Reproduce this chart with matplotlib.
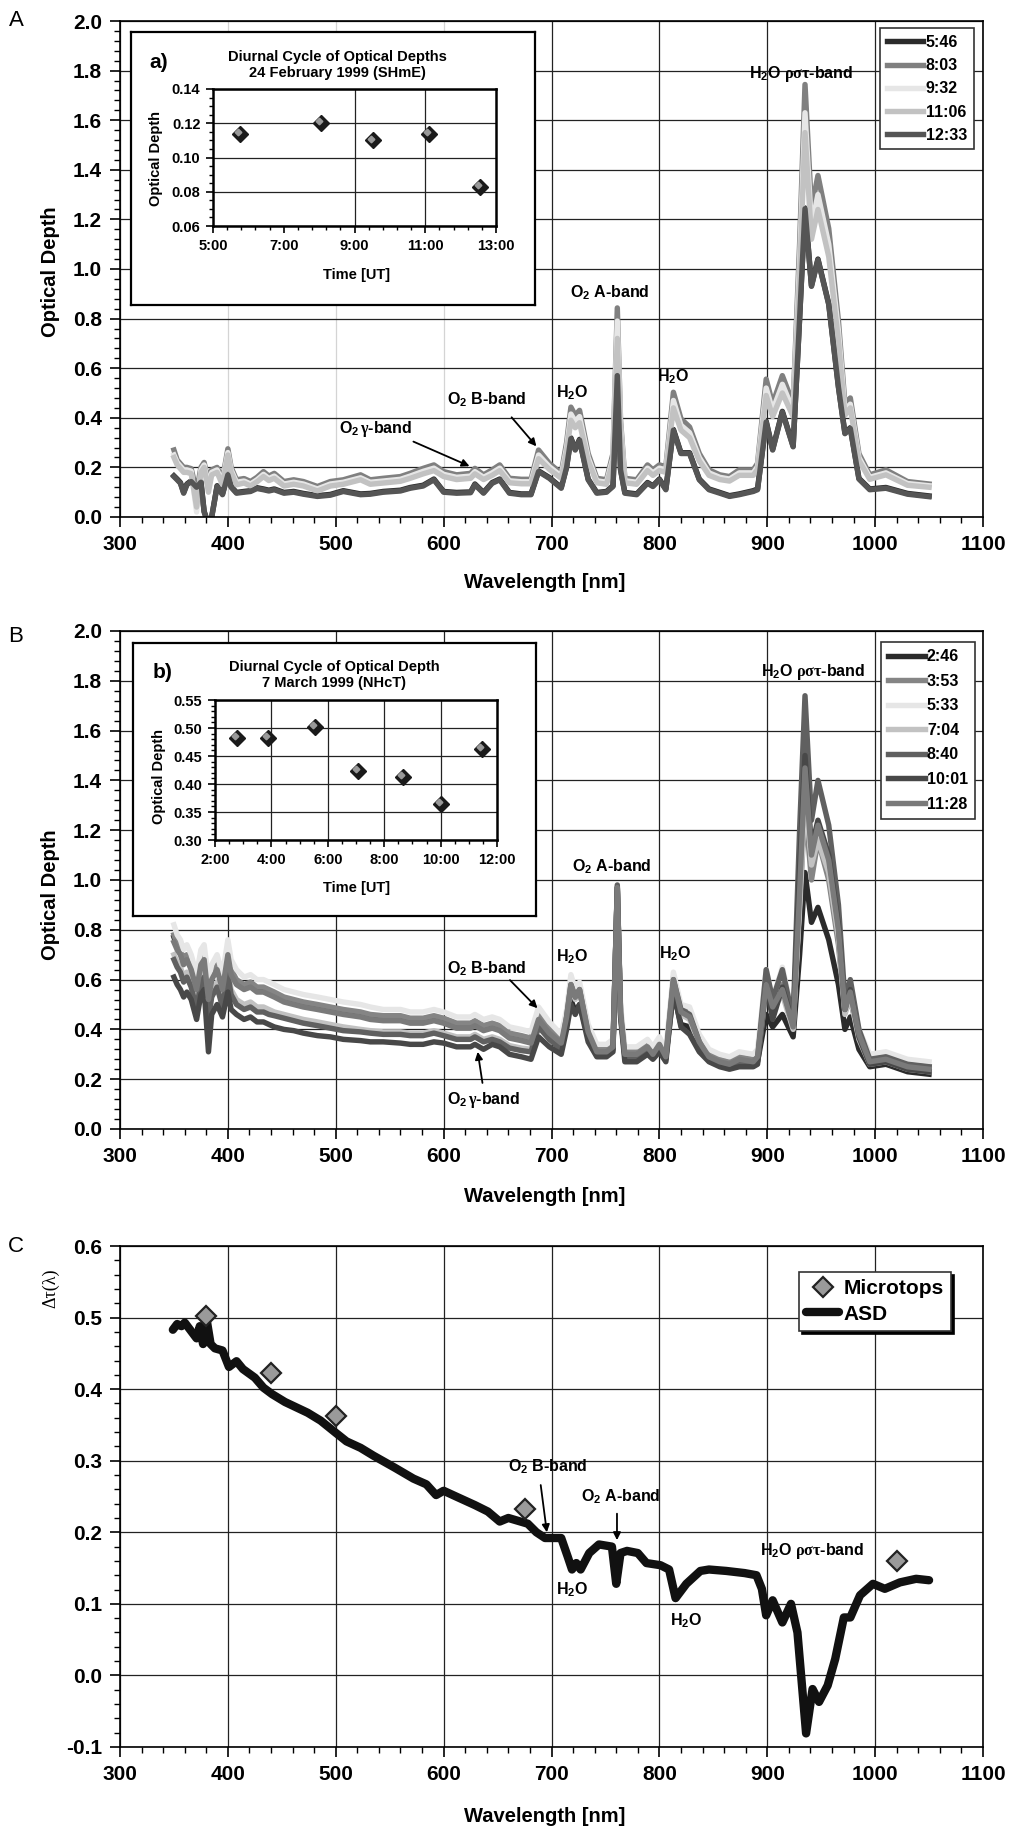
import matplotlib
matplotlib.use("Agg")
import numpy as np
import matplotlib.pyplot as plt
from matplotlib import transforms
from matplotlib.ticker import MultipleLocator, FuncFormatter, FormatStrFormatter

plt.rcParams["font.family"] = ["Liberation Sans", "DejaVu Sans"]
plt.rcParams["font.weight"] = "bold"
plt.rcParams["axes.unicode_minus"] = False
plt.rcParams["mathtext.fontset"] = "custom"
plt.rcParams["mathtext.rm"] = "Liberation Serif"
plt.rcParams["mathtext.it"] = "Liberation Serif:italic"
plt.rcParams["mathtext.bf"] = "Liberation Sans:bold"

# ---------------- data ----------------
# common wavelength grid of the ASD spectra (panels A and B)
wl = [350, 353, 356, 359, 362, 366, 371, 375, 378, 382,
      385, 390, 395, 400, 403, 408, 415, 421, 427, 433,
      438, 443, 452, 461, 470, 483, 495, 507, 523, 532,
      544, 560, 569, 581, 591, 600, 612, 625, 629, 637,
      645, 652, 661, 672, 681, 688, 698, 709, 714, 718,
      722, 726, 734, 742, 751, 757, 761, 764, 768, 779,
      789, 794, 800, 806, 813, 820, 828, 837, 846, 856,
      865, 874, 887, 891, 899, 905, 914, 924, 930, 935,
      941, 947, 957, 966, 972, 977, 985, 995, 1010, 1030,
      1050]

# panel A, 24 February 1999
od_a_0546 = [0.166, 0.153, 0.139, 0.099, 0.133, 0.146, 0.123, 0.143, 0.023, -0.03,
             0.0, 0.126, 0.093, 0.173, 0.123, 0.099, 0.103, 0.106, 0.118, 0.113,
             0.108, 0.113, 0.099, 0.103, 0.095, 0.086, 0.091, 0.106, 0.093, 0.095,
             0.103, 0.108, 0.119, 0.128, 0.153, 0.103, 0.099, 0.101, 0.133, 0.099,
             0.139, 0.153, 0.099, 0.093, 0.093, 0.186, 0.159, 0.119, 0.203, 0.319,
             0.273, 0.313, 0.153, 0.099, 0.103, 0.126, 0.573, 0.193, 0.099, 0.093,
             0.139, 0.126, 0.153, 0.113, 0.353, 0.259, 0.259, 0.153, 0.113, 0.099,
             0.086, 0.093, 0.106, 0.113, 0.386, 0.273, 0.426, 0.286, 0.803, 1.246,
             0.933, 1.04, 0.86, 0.526, 0.339, 0.36, 0.156, 0.113, 0.119, 0.095,
             0.085]
od_a_0803 = [0.27, 0.23, 0.215, 0.20, 0.20, 0.195, 0.10, 0.20, 0.22, 0.14,
             0.19, 0.20, 0.15, 0.275, 0.20, 0.15, 0.155, 0.143, 0.16, 0.183,
             0.165, 0.176, 0.143, 0.15, 0.143, 0.123, 0.143, 0.15, 0.17, 0.15,
             0.156, 0.163, 0.176, 0.196, 0.21, 0.183, 0.17, 0.176, 0.196, 0.17,
             0.19, 0.21, 0.156, 0.152, 0.152, 0.27, 0.216, 0.176, 0.30, 0.443,
             0.41, 0.43, 0.256, 0.156, 0.15, 0.256, 0.843, 0.39, 0.156, 0.15,
             0.21, 0.19, 0.21, 0.203, 0.503, 0.396, 0.363, 0.256, 0.19, 0.17,
             0.163, 0.19, 0.19, 0.216, 0.556, 0.456, 0.57, 0.456, 1.10, 1.744,
             1.243, 1.377, 1.163, 0.79, 0.456, 0.48, 0.255, 0.17, 0.19, 0.143,
             0.133]
od_a_0932 = [0.25, 0.22, 0.205, 0.19, 0.19, 0.185, 0.02, 0.19, 0.21, 0.12,
             0.18, 0.19, 0.14, 0.26, 0.19, 0.14, 0.145, 0.133, 0.15, 0.172,
             0.155, 0.165, 0.133, 0.14, 0.133, 0.113, 0.133, 0.14, 0.158, 0.14,
             0.145, 0.152, 0.165, 0.184, 0.197, 0.172, 0.16, 0.165, 0.183, 0.16,
             0.178, 0.197, 0.146, 0.142, 0.142, 0.25, 0.203, 0.165, 0.28, 0.415,
             0.385, 0.405, 0.24, 0.146, 0.14, 0.24, 0.79, 0.37, 0.146, 0.14,
             0.197, 0.178, 0.197, 0.19, 0.47, 0.37, 0.34, 0.24, 0.178, 0.16,
             0.153, 0.178, 0.178, 0.203, 0.52, 0.43, 0.535, 0.43, 1.03, 1.63,
             1.17, 1.30, 1.10, 0.75, 0.43, 0.455, 0.24, 0.16, 0.178, 0.135,
             0.126]
od_a_1106 = [0.24, 0.21, 0.195, 0.18, 0.18, 0.175, 0.04, 0.18, 0.20, 0.10,
             0.17, 0.18, 0.13, 0.25, 0.18, 0.13, 0.137, 0.125, 0.142, 0.163,
             0.147, 0.156, 0.125, 0.132, 0.125, 0.105, 0.125, 0.132, 0.15, 0.132,
             0.137, 0.144, 0.156, 0.174, 0.187, 0.163, 0.151, 0.156, 0.174, 0.151,
             0.168, 0.187, 0.138, 0.134, 0.134, 0.235, 0.192, 0.156, 0.265, 0.39,
             0.36, 0.38, 0.226, 0.138, 0.132, 0.226, 0.72, 0.345, 0.138, 0.132,
             0.187, 0.168, 0.187, 0.18, 0.44, 0.35, 0.32, 0.226, 0.168, 0.151,
             0.145, 0.168, 0.168, 0.192, 0.49, 0.405, 0.50, 0.405, 0.97, 1.55,
             1.12, 1.24, 1.05, 0.71, 0.41, 0.44, 0.228, 0.152, 0.17, 0.128,
             0.12]
od_a_1233 = [0.163, 0.15, 0.136, 0.096, 0.13, 0.143, 0.12, 0.14, 0.02, -0.03,
             0.0, 0.123, 0.09, 0.17, 0.12, 0.096, 0.10, 0.103, 0.115, 0.11,
             0.105, 0.11, 0.096, 0.10, 0.092, 0.083, 0.088, 0.103, 0.09, 0.092,
             0.10, 0.105, 0.116, 0.125, 0.15, 0.10, 0.096, 0.098, 0.13, 0.096,
             0.136, 0.15, 0.096, 0.09, 0.09, 0.183, 0.156, 0.116, 0.20, 0.316,
             0.27, 0.31, 0.15, 0.096, 0.10, 0.123, 0.57, 0.19, 0.096, 0.09,
             0.136, 0.123, 0.15, 0.11, 0.35, 0.256, 0.256, 0.15, 0.11, 0.096,
             0.083, 0.09, 0.103, 0.11, 0.383, 0.27, 0.423, 0.283, 0.80, 1.243,
             0.93, 1.037, 0.857, 0.523, 0.336, 0.357, 0.153, 0.11, 0.116, 0.092,
             0.082]
labels_a = ["5:46", "8:03", "9:32", "11:06", "12:33"]
colors_a = ["#2b2b2b", "#808080", "#e6e6e6", "#c2c2c2", "#555555"]

# panel B, 7 March 1999
od_b_0246 = [0.77, 0.73, 0.71, 0.67, 0.69, 0.65, 0.55, 0.67, 0.69, 0.50,
             0.61, 0.65, 0.57, 0.71, 0.63, 0.59, 0.57, 0.58, 0.56, 0.56,
             0.55, 0.54, 0.52, 0.51, 0.50, 0.49, 0.48, 0.47, 0.46, 0.45,
             0.445, 0.445, 0.435, 0.435, 0.445, 0.435, 0.415, 0.415, 0.425, 0.405,
             0.415, 0.405, 0.375, 0.365, 0.355, 0.45, 0.395, 0.35, 0.43, 0.52,
             0.47, 0.50, 0.37, 0.31, 0.31, 0.33, 0.96, 0.47, 0.30, 0.30,
             0.33, 0.30, 0.34, 0.29, 0.55, 0.42, 0.41, 0.33, 0.28, 0.26,
             0.25, 0.27, 0.26, 0.27, 0.46, 0.41, 0.46, 0.37, 0.70, 1.03,
             0.83, 0.89, 0.76, 0.58, 0.40, 0.45, 0.32, 0.25, 0.26, 0.23,
             0.22]
od_b_0353 = [0.78, 0.74, 0.72, 0.68, 0.70, 0.66, 0.56, 0.68, 0.70, 0.52,
             0.62, 0.66, 0.58, 0.72, 0.64, 0.60, 0.58, 0.59, 0.57, 0.57,
             0.56, 0.55, 0.53, 0.52, 0.51, 0.50, 0.49, 0.48, 0.47, 0.46,
             0.455, 0.455, 0.445, 0.445, 0.455, 0.445, 0.425, 0.425, 0.435, 0.415,
             0.425, 0.415, 0.385, 0.375, 0.365, 0.46, 0.405, 0.36, 0.46, 0.59,
             0.54, 0.57, 0.40, 0.32, 0.32, 0.34, 0.97, 0.48, 0.31, 0.31,
             0.34, 0.31, 0.35, 0.30, 0.61, 0.48, 0.47, 0.36, 0.30, 0.28,
             0.27, 0.29, 0.28, 0.30, 0.60, 0.50, 0.58, 0.42, 0.88, 1.30,
             1.00, 1.16, 1.00, 0.74, 0.47, 0.52, 0.37, 0.28, 0.29, 0.26,
             0.25]
od_b_0533 = [0.82, 0.78, 0.76, 0.72, 0.74, 0.70, 0.62, 0.72, 0.74, 0.60,
             0.66, 0.70, 0.62, 0.76, 0.68, 0.64, 0.61, 0.62, 0.60, 0.60,
             0.59, 0.58, 0.56, 0.55, 0.54, 0.53, 0.52, 0.51, 0.50, 0.49,
             0.48, 0.48, 0.47, 0.47, 0.48, 0.47, 0.45, 0.45, 0.46, 0.44,
             0.45, 0.44, 0.41, 0.40, 0.39, 0.49, 0.43, 0.38, 0.48, 0.62,
             0.56, 0.59, 0.42, 0.34, 0.34, 0.36, 0.98, 0.50, 0.33, 0.33,
             0.36, 0.33, 0.37, 0.32, 0.63, 0.50, 0.49, 0.38, 0.32, 0.30,
             0.29, 0.31, 0.30, 0.32, 0.64, 0.52, 0.65, 0.45, 0.90, 1.36,
             1.08, 1.22, 1.07, 0.80, 0.50, 0.55, 0.40, 0.30, 0.31, 0.28,
             0.27]
od_b_0704 = [0.70, 0.67, 0.65, 0.61, 0.63, 0.59, 0.50, 0.61, 0.63, 0.46,
             0.55, 0.59, 0.51, 0.64, 0.56, 0.52, 0.50, 0.51, 0.49, 0.49,
             0.48, 0.47, 0.46, 0.45, 0.44, 0.43, 0.42, 0.41, 0.40, 0.395,
             0.39, 0.39, 0.385, 0.385, 0.395, 0.385, 0.37, 0.37, 0.38, 0.36,
             0.37, 0.36, 0.335, 0.325, 0.32, 0.42, 0.37, 0.33, 0.44, 0.57,
             0.52, 0.55, 0.38, 0.30, 0.30, 0.32, 0.97, 0.46, 0.29, 0.29,
             0.32, 0.29, 0.33, 0.28, 0.59, 0.46, 0.44, 0.34, 0.28, 0.26,
             0.25, 0.27, 0.26, 0.28, 0.56, 0.48, 0.54, 0.40, 0.92, 1.40,
             1.06, 1.16, 1.03, 0.77, 0.46, 0.53, 0.36, 0.26, 0.27, 0.24,
             0.23]
od_b_0840 = [0.68, 0.65, 0.63, 0.59, 0.61, 0.57, 0.48, 0.59, 0.61, 0.44,
             0.53, 0.57, 0.49, 0.62, 0.54, 0.50, 0.48, 0.49, 0.47, 0.47,
             0.46, 0.455, 0.445, 0.435, 0.425, 0.415, 0.405, 0.395, 0.39, 0.385,
             0.38, 0.38, 0.375, 0.375, 0.385, 0.375, 0.36, 0.36, 0.37, 0.35,
             0.36, 0.35, 0.325, 0.315, 0.31, 0.41, 0.36, 0.32, 0.45, 0.58,
             0.53, 0.56, 0.38, 0.30, 0.30, 0.32, 0.98, 0.46, 0.29, 0.28,
             0.32, 0.29, 0.33, 0.28, 0.60, 0.48, 0.46, 0.35, 0.28, 0.26,
             0.25, 0.27, 0.26, 0.28, 0.64, 0.52, 0.64, 0.44, 1.20, 1.74,
             1.24, 1.40, 1.22, 0.90, 0.52, 0.60, 0.40, 0.28, 0.29, 0.26,
             0.25]
od_b_1001 = [0.61, 0.58, 0.56, 0.53, 0.55, 0.52, 0.44, 0.54, 0.56, 0.31,
             0.46, 0.50, 0.45, 0.55, 0.48, 0.46, 0.44, 0.45, 0.43, 0.43,
             0.42, 0.41, 0.40, 0.395, 0.385, 0.375, 0.37, 0.36, 0.355, 0.35,
             0.35, 0.345, 0.34, 0.34, 0.35, 0.345, 0.33, 0.33, 0.34, 0.32,
             0.34, 0.33, 0.30, 0.29, 0.28, 0.37, 0.33, 0.30, 0.40, 0.50,
             0.46, 0.50, 0.35, 0.29, 0.29, 0.31, 0.97, 0.45, 0.27, 0.27,
             0.30, 0.28, 0.31, 0.27, 0.56, 0.41, 0.38, 0.31, 0.27, 0.25,
             0.24, 0.25, 0.25, 0.26, 0.58, 0.44, 0.57, 0.42, 1.05, 1.50,
             1.13, 1.24, 1.10, 0.82, 0.48, 0.56, 0.37, 0.26, 0.27, 0.24,
             0.23]
od_b_1128 = [0.75, 0.72, 0.70, 0.66, 0.68, 0.64, 0.56, 0.66, 0.68, 0.52,
             0.60, 0.64, 0.56, 0.70, 0.62, 0.58, 0.56, 0.57, 0.55, 0.55,
             0.54, 0.53, 0.51, 0.50, 0.49, 0.48, 0.47, 0.46, 0.45, 0.44,
             0.435, 0.435, 0.425, 0.425, 0.435, 0.425, 0.405, 0.405, 0.415, 0.395,
             0.405, 0.395, 0.365, 0.355, 0.345, 0.44, 0.385, 0.345, 0.45, 0.58,
             0.53, 0.56, 0.39, 0.31, 0.31, 0.33, 0.97, 0.47, 0.30, 0.30,
             0.33, 0.30, 0.34, 0.29, 0.60, 0.47, 0.45, 0.35, 0.29, 0.27,
             0.26, 0.28, 0.27, 0.29, 0.58, 0.49, 0.56, 0.41, 0.95, 1.45,
             1.10, 1.22, 1.08, 0.80, 0.48, 0.55, 0.38, 0.27, 0.28, 0.25,
             0.24]
labels_b = ["2:46", "3:53", "5:33", "7:04", "8:40", "10:01", "11:28"]
colors_b = ["#2b2b2b", "#858585", "#e6e6e6", "#c2c2c2", "#606060", "#484848", "#7a7a7a"]

# insets: diurnal cycle
time_a = [5.77, 8.05, 9.53, 11.10, 12.55]
tau_a = [0.114, 0.120, 0.110, 0.114, 0.083]
time_b = [2.77, 3.88, 5.55, 7.07, 8.67, 10.02, 11.47]
tau_b = [0.483, 0.482, 0.502, 0.424, 0.412, 0.364, 0.462]

# panel C: delta tau
wl_c = [349, 353, 357, 360, 365, 371, 374, 377, 380, 384,
        388, 395, 401, 408, 414, 425, 433, 441, 453, 474,
        486, 500, 510, 523, 535, 555, 572, 584, 593, 600,
        613, 629, 641, 652, 660, 678, 686, 694, 709, 715,
        719, 723, 727, 735, 744, 756, 760, 764, 770, 780,
        788, 801, 809, 815, 825, 838, 846, 862, 879, 890,
        895, 899, 905, 914, 922, 928, 936, 942, 948, 956,
        963, 971, 977, 986, 998, 1009, 1023, 1038, 1050]
dtau_asd = [0.483, 0.491, 0.488, 0.493, 0.483, 0.471, 0.488, 0.463, 0.500, 0.463,
            0.457, 0.454, 0.431, 0.439, 0.428, 0.416, 0.402, 0.393, 0.382, 0.367,
            0.356, 0.339, 0.327, 0.318, 0.307, 0.290, 0.275, 0.267, 0.252, 0.258,
            0.249, 0.238, 0.229, 0.215, 0.220, 0.212, 0.200, 0.192, 0.192, 0.166,
            0.148, 0.157, 0.148, 0.171, 0.183, 0.180, 0.128, 0.171, 0.174, 0.171,
            0.157, 0.154, 0.148, 0.108, 0.128, 0.146, 0.148, 0.146, 0.143, 0.140,
            0.121, 0.084, 0.105, 0.074, 0.100, 0.060, -0.081, -0.019, -0.037, -0.014,
            0.023, 0.081, 0.081, 0.112, 0.128, 0.121, 0.130, 0.135, 0.133]
wl_mt = [380, 440, 500, 675, 1020]
dtau_mt = [0.502, 0.422, 0.362, 0.232, 0.160]

# ---------------- layout helpers ----------------
W, H = 1016, 1830


def px(x, y):
    return x / W, 1 - y / H


def rect(x0, y0, x1, y1):
    return [x0 / W, 1 - y1 / H, (x1 - x0) / W, (y1 - y0) / H]


def style_main(ax, ylo, yhi, ymaj, ymin):
    ax.set_xlim(300, 1100)
    ax.set_ylim(ylo, yhi)
    ax.xaxis.set_major_locator(MultipleLocator(100))
    ax.xaxis.set_minor_locator(MultipleLocator(20))
    ax.yaxis.set_major_locator(MultipleLocator(ymaj))
    ax.yaxis.set_minor_locator(MultipleLocator(ymin))
    ax.yaxis.set_major_formatter(FormatStrFormatter("%.1f"))
    ax.grid(True, which="major", color="#222222", lw=0.9)
    ax.set_axisbelow(True)
    ax.tick_params(which="major", direction="out", length=7, width=1.2,
                   labelsize=15, pad=6)
    ax.tick_params(which="minor", direction="out", length=4, width=1.0)
    for s in ax.spines.values():
        s.set_linewidth(1.2)


def inset(box, plot, times, taus, xlo, xhi, ylo, yhi, ymaj, ymin, xminor,
          hidden_xgrid, title, tag, title_xy, tag_xy, ylab_xy, xlab_xy):
    bx = fig.add_axes(rect(*box))
    bx.set_xticks([])
    bx.set_yticks([])
    for s in bx.spines.values():
        s.set_linewidth(1.6)
    ix = fig.add_axes(rect(*plot))
    ix.set_xticks(np.arange(xlo, xhi + 0.01, 2))
    ix.set_xticks(np.arange(xlo, xhi + 0.01, xminor), minor=True)
    ix.set_xlim(xlo, xhi)
    ix.set_ylim(ylo, yhi)
    ix.yaxis.set_major_locator(MultipleLocator(ymaj))
    ix.yaxis.set_minor_locator(MultipleLocator(ymin))
    ix.xaxis.set_major_formatter(FuncFormatter(lambda v, p: f"{int(round(v))}:00"))
    ix.yaxis.set_major_formatter(FormatStrFormatter("%.2f"))
    ix.grid(True, which="major", color="#222222", lw=0.9)
    ix.set_axisbelow(True)
    for i, g in enumerate(ix.xaxis.get_gridlines()):
        if i in hidden_xgrid:
            g.set_visible(False)
    ix.tick_params(which="major", direction="out", length=5, width=1.2,
                   labelsize=10.5, pad=4)
    ix.tick_params(which="minor", direction="out", length=3, width=1.0)
    for s in ix.spines.values():
        s.set_linewidth(1.8)
    ix.plot(times, taus, ls="none", marker="D", ms=8, color="#1a1a1a", zorder=3)
    shift = transforms.offset_copy(ix.transData, fig=fig, x=-1.3, y=1.3, units="points")
    ix.plot(times, taus, ls="none", marker="D", ms=3.4, color="#9a9a9a",
            transform=shift, zorder=4)
    fig.text(*px(*title_xy), title, ha="center", va="center", fontsize=10.5,
             linespacing=1.25)
    fig.text(*px(*tag_xy), tag, ha="center", va="center", fontsize=15)
    fig.text(*px(*ylab_xy), "Optical Depth", rotation=90, ha="center",
             va="center", fontsize=10.5)
    fig.text(*px(*xlab_xy), "Time [UT]", ha="center", va="center", fontsize=10.5)
    return ix


def label(ax, x, y, s, ha="center", size=11.5):
    ax.text(x, y, s, ha=ha, va="center", fontsize=size, zorder=6)


def arrow(ax, tail, tip):
    ax.annotate("", xy=tip, xytext=tail, zorder=6,
                arrowprops=dict(arrowstyle="-|>", color="black", lw=1.3,
                                mutation_scale=11, shrinkA=0, shrinkB=0))


O2 = r"O$_\mathbf{2}$"
H2O = r"H$_\mathbf{2}$O"
RST = r"H$_\mathbf{2}$O $\mathrm{\rho\sigma\tau}$-band"
GAM = r"O$_\mathbf{2}$$\,\mathrm{\gamma}$-band"

fig = plt.figure(figsize=(W / 100, H / 100), dpi=100)

# ---------------- panel A ----------------
ax_a = fig.add_axes(rect(120, 21, 983, 517))
style_main(ax_a, 0, 2.0, 0.2, 0.04)
for i, g in enumerate(ax_a.xaxis.get_gridlines()):
    if i in (2, 3, 4):
        g.set_color("#d4d4d4")
series_a = [od_a_0546, od_a_0803, od_a_0932, od_a_1106, od_a_1233]
for vals, lab, col in zip(series_a, labels_a, colors_a):
    ax_a.plot(wl, vals, color=col, lw=3.9, label=lab, solid_joinstyle="round")
leg = ax_a.legend(loc="upper right", bbox_to_anchor=(0.989, 0.985), borderaxespad=0,
                  fancybox=False, edgecolor="#333333", framealpha=1, fontsize=11.5,
                  handlelength=2.3, handletextpad=0.15, labelspacing=0.52,
                  borderpad=0.4)
leg.get_frame().set_linewidth(1.2)

label(ax_a, 537, 0.355, GAM)
arrow(ax_a, (572, 0.304), (624, 0.205))
label(ax_a, 640, 0.472, O2 + " B-band")
arrow(ax_a, (663, 0.402), (686, 0.285))
label(ax_a, 719.5, 0.50, H2O)
label(ax_a, 754, 0.903, O2 + " A-band")
label(ax_a, 812.5, 0.566, H2O)
label(ax_a, 883, 1.788, RST, ha="left")

inset((131, 32, 535, 305), (213, 89, 496, 226), time_a, tau_a, 5, 13,
      0.06, 0.14, 0.02, 0.005, 0.4, (0, 1, 4),
      "Diurnal Cycle of Optical Depths\n24 February 1999 (SHmE)", "a)",
      (337, 65), (159, 62), (156, 158), (357, 275))

# ---------------- panel B ----------------
ax_b = fig.add_axes(rect(120, 631, 983, 1129))
style_main(ax_b, 0, 2.0, 0.2, 0.04)
series_b = [od_b_0246, od_b_0353, od_b_0533, od_b_0704, od_b_0840, od_b_1001, od_b_1128]
for vals, lab, col in zip(series_b, labels_b, colors_b):
    ax_b.plot(wl, vals, color=col, lw=3.9, label=lab, solid_joinstyle="round")
leg = ax_b.legend(loc="upper right", bbox_to_anchor=(0.991, 0.978), borderaxespad=0,
                  fancybox=False, edgecolor="#333333", framealpha=1, fontsize=11.5,
                  handlelength=2.3, handletextpad=0.15, labelspacing=0.6,
                  borderpad=0.45)
leg.get_frame().set_linewidth(1.2)

label(ax_b, 640, 0.643, O2 + " B-band")
arrow(ax_b, (661.5, 0.598), (687, 0.485))
label(ax_b, 637, 0.116, GAM)
arrow(ax_b, (636, 0.185), (631.6, 0.31))
label(ax_b, 719.5, 0.69, H2O)
label(ax_b, 755.5, 1.053, O2 + " A-band")
label(ax_b, 814.7, 0.705, H2O)
label(ax_b, 894, 1.837, RST, ha="left")

inset((133, 643, 536, 916), (215, 700, 497, 840), time_b, tau_b, 2, 12,
      0.30, 0.55, 0.05, 0.01, 0.5, (0, 5),
      "Diurnal Cycle of Optical Depth\n7 March 1999 (NHcT)", "b)",
      (334, 675), (163, 672), (159, 776), (357, 888))

# ---------------- panel C ----------------
ax_c = fig.add_axes(rect(120, 1246, 983, 1747))
style_main(ax_c, -0.1, 0.6, 0.1, 0.02)
ax_c.plot(wl_c, dtau_asd, color="#111111", lw=6, label="ASD",
          solid_joinstyle="round", solid_capstyle="round", zorder=3)
ax_c.plot(wl_mt, dtau_mt, ls="none", marker="D", ms=10, mfc="#9a9a9a",
          mec="#222222", mew=1.6, label="Microtops", zorder=4)
handles, labs = ax_c.get_legend_handles_labels()
leg = ax_c.legend(handles[::-1], labs[::-1], loc="upper right",
                  bbox_to_anchor=(0.963, 0.948), borderaxespad=0, fancybox=False,
                  edgecolor="#333333", framealpha=1, fontsize=15, handlelength=1.6,
                  handletextpad=0.2, labelspacing=0.3, borderpad=0.35,
                  shadow={"color": "black", "alpha": 1})
leg.get_frame().set_linewidth(1.2)

label(ax_c, 696.5, 0.291, O2 + " B-band")
arrow(ax_c, (690, 0.266), (695.7, 0.200))
label(ax_c, 764, 0.249, O2 + " A-band")
arrow(ax_c, (760.7, 0.226), (760.7, 0.189))
label(ax_c, 719, 0.12, H2O)
label(ax_c, 825, 0.076, H2O)
label(ax_c, 893, 0.174, RST, ha="left")

# ---------------- outer labels ----------------
for y, letter in [(21, "A"), (636, "B"), (1246, "C")]:
    fig.text(*px(16, y), letter, ha="center", va="center", fontsize=16,
             fontweight="normal")
for y in (272, 895):
    fig.text(*px(51, y), "Optical Depth", rotation=90, ha="center", va="center",
             fontsize=14.5)
for y in (582, 1197, 1816):
    fig.text(*px(545, y), "Wavelength [nm]", ha="center", va="center", fontsize=14.5)
fig.text(*px(51, 1288), "Δτ(λ)", rotation=90, ha="center", va="center",
         fontsize=13, family="Liberation Serif", fontweight="normal")

fig.savefig("out.png", dpi=100)
